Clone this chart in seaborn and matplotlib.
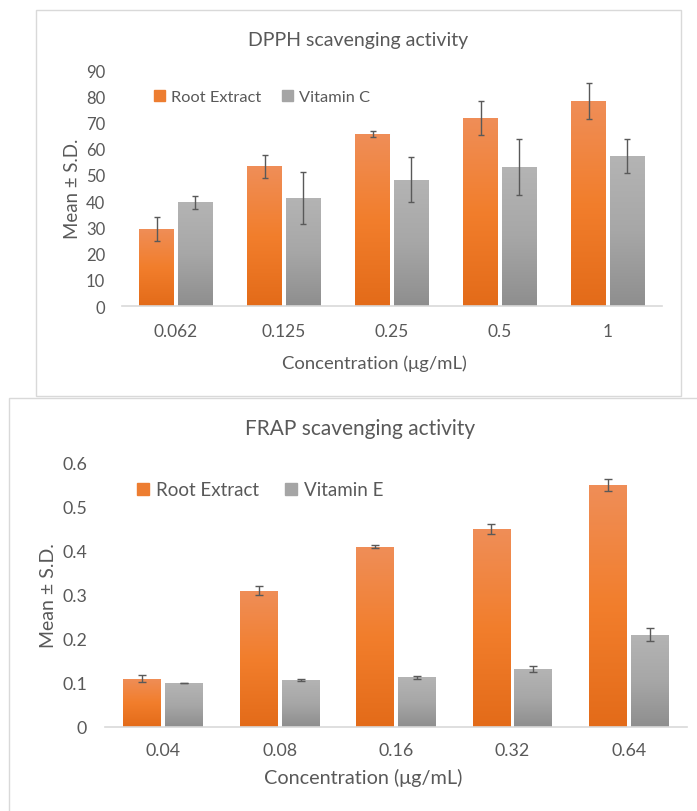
import numpy as np
import pandas as pd
import matplotlib
matplotlib.use("Agg")
import matplotlib.pyplot as plt
import seaborn as sns
from matplotlib.colors import LinearSegmentedColormap
from matplotlib.patches import Rectangle, Patch

sns.set_theme(style="white")
plt.rcParams['font.family'] = ['Lato', 'DejaVu Sans']

TXT = '#595959'
ORANGE = '#ED7D31'
GRAY = '#A5A5A5'

# DPPH panel
dpph_conc = ['0.062', '0.125', '0.25', '0.5', '1']
dpph_root = [29.4, 53.3, 65.6, 71.7, 78.2]
dpph_root_sd = [4.6, 4.4, 1.3, 6.5, 6.7]
dpph_vitc = [39.5, 41.2, 48.2, 52.9, 57.1]
dpph_vitc_sd = [2.4, 10.0, 8.5, 10.6, 6.4]

# FRAP panel
frap_conc = ['0.04', '0.08', '0.16', '0.32', '0.64']
frap_root = [0.110, 0.310, 0.410, 0.450, 0.550]
frap_root_sd = [0.0075, 0.010, 0.004, 0.0115, 0.014]
frap_vite = [0.100, 0.107, 0.113, 0.131, 0.210]
frap_vite_sd = [0.001, 0.0015, 0.004, 0.007, 0.015]


def long_df(conc, a, b, name_a, name_b):
    return pd.DataFrame({
        'conc': conc + conc,
        'value': a + b,
        'group': [name_a] * len(conc) + [name_b] * len(conc),
    })


def shade(ax, bars, top, mid, bottom):
    cmap = LinearSegmentedColormap.from_list('g', [bottom, mid, top])
    grad = np.linspace(0, 1, 256).reshape(-1, 1)
    for bar in bars:
        x, y = bar.get_x(), bar.get_y()
        w, h = bar.get_width(), bar.get_height()
        im = ax.imshow(grad, extent=[x, x + w, y, y + h], origin='lower',
                       cmap=cmap, aspect='auto', zorder=2)
        im.set_clip_path(bar)


def draw_panel(ax, df, sds, hue_order, ylim, yticks, fmt, fs):
    sns.barplot(data=df, x='conc', y='value', hue='group', hue_order=hue_order,
                palette=[ORANGE, GRAY], width=0.72, gap=0.1, errorbar=None,
                ax=ax, legend=False, zorder=2)
    shade(ax, ax.containers[0], '#EF8E58', '#F27E2C', '#E36B19')
    shade(ax, ax.containers[1], '#B4B4B4', '#A7A7A7', '#8E8E8E')
    for cont, sd in zip(ax.containers, sds):
        xs = [b.get_x() + b.get_width() / 2 for b in cont]
        ys = [b.get_height() for b in cont]
        ax.errorbar(xs, ys, yerr=sd, fmt='none', ecolor=TXT, elinewidth=1,
                    capsize=fs['cap'], capthick=1, zorder=4)
    ax.set_xlim(-0.5, 4.5)
    ax.set_ylim(*ylim)
    ax.set_yticks(yticks)
    ax.set_yticklabels([fmt(v) for v in yticks])
    for s in ['top', 'right', 'left']:
        ax.spines[s].set_visible(False)
    ax.spines['bottom'].set_color('#D9D9D9')
    ax.spines['bottom'].set_linewidth(1.2)
    ax.tick_params(axis='y', length=0, pad=fs['ypad'], labelsize=fs['ytick'], labelcolor=TXT)
    ax.tick_params(axis='x', which='major', length=0, pad=fs['xpad'], labelsize=fs['xtick'], labelcolor=TXT)
    ax.set_facecolor('none')


fig = plt.figure(figsize=(6.97, 8.12), dpi=100)
fig.patch.set_facecolor('white')

# panel frames
fig.add_artist(Rectangle((36 / 697, 1 - 397 / 812), 645 / 697, 386 / 812,
                         transform=fig.transFigure, fill=False, ec='#D9D9D9', lw=1))
fig.add_artist(Rectangle((9 / 697, -0.01), 0.99, 1 - 399 / 812 + 0.01,
                         transform=fig.transFigure, fill=False, ec='#D9D9D9', lw=1))

# top: DPPH
ax1 = fig.add_axes([122 / 697, 1 - 307 / 812, 540 / 697, 236 / 812])
df1 = long_df(dpph_conc, dpph_root, dpph_vitc, 'Root Extract', 'Vitamin C')
draw_panel(ax1, df1, [dpph_root_sd, dpph_vitc_sd], ['Root Extract', 'Vitamin C'],
           (0, 90), list(range(0, 91, 10)), lambda v: f'{v}',
           {'xtick': 12.5, 'ytick': 12, 'ypad': 12, 'xpad': 12, 'cap': 2.5})
ax1.set_xticks(np.arange(-0.5, 5, 1), minor=True)
ax1.tick_params(axis='x', which='minor', length=4, width=1, color='#D9D9D9', direction='out')
ax1.set_title('DPPH scavenging activity', fontsize=14, color=TXT, pad=0,
              x=(358 - 122) / 540, y=(307 - 40) / 236, va='center')
ax1.set_xlabel('Concentration (μg/mL)', fontsize=13.3, color=TXT, va='center')
ax1.xaxis.set_label_coords((374 - 122) / 540, (307 - 364) / 236)
ax1.set_ylabel('Mean ± S.D.', fontsize=13.4, color=TXT, va='center')
ax1.yaxis.set_label_coords((72 - 122) / 540, 0.5)
h1 = [Patch(color=ORANGE), Patch(color=GRAY)]
ax1.legend(h1, ['Root Extract', 'Vitamin C'], loc='center left', ncol=2,
           bbox_to_anchor=(0.06, (307 - 98) / 236), frameon=False, fontsize=11.8,
           handlelength=0.65, handleheight=0.65, handletextpad=0.35, columnspacing=1.3,
           borderpad=0, borderaxespad=0, labelcolor=TXT)

# bottom: FRAP
ax2 = fig.add_axes([105 / 697, 1 - 728 / 812, 582 / 697, 264 / 812])
df2 = long_df(frap_conc, frap_root, frap_vite, 'Root Extract', 'Vitamin E')
draw_panel(ax2, df2, [frap_root_sd, frap_vite_sd], ['Root Extract', 'Vitamin E'],
           (0, 0.6), [0, 0.1, 0.2, 0.3, 0.4, 0.5, 0.6],
           lambda v: '0' if v == 0 else f'{v:.1f}',
           {'xtick': 12.8, 'ytick': 12.8, 'ypad': 13, 'xpad': 11, 'cap': 3})
ax2.set_title('FRAP scavenging activity', fontsize=15, color=TXT, pad=0,
              x=(360 - 105) / 582, y=(728 - 429) / 264, va='center')
ax2.set_xlabel('Concentration (μg/mL)', fontsize=14.3, color=TXT, va='center')
ax2.xaxis.set_label_coords((363 - 105) / 582, (728 - 778) / 264)
ax2.set_ylabel('Mean ± S.D.', fontsize=14, color=TXT, va='center')
ax2.yaxis.set_label_coords((48 - 105) / 582, 0.5)
h2 = [Patch(color=ORANGE), Patch(color=GRAY)]
ax2.legend(h2, ['Root Extract', 'Vitamin E'], loc='center left', ncol=2,
           bbox_to_anchor=(0.055, (728 - 491) / 264), frameon=False, fontsize=13.5,
           handlelength=0.65, handleheight=0.65, handletextpad=0.35, columnspacing=1.4,
           borderpad=0, borderaxespad=0, labelcolor=TXT)

fig.savefig('out.png', dpi=100)
